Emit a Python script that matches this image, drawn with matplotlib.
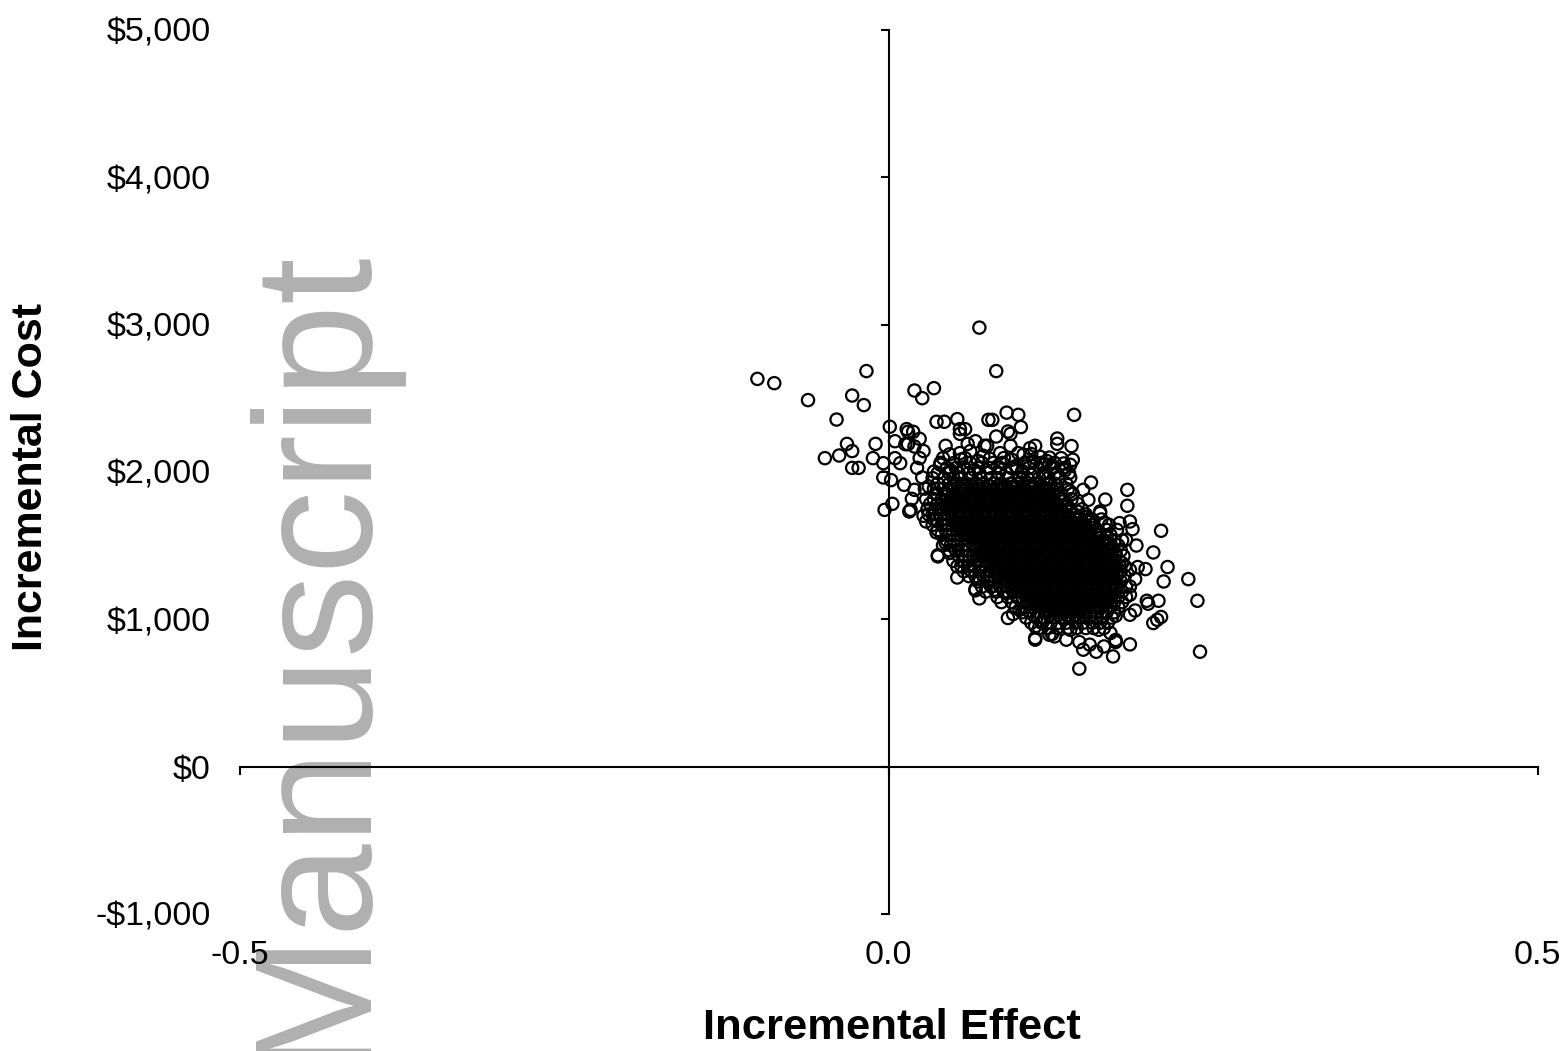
import matplotlib
matplotlib.use("Agg")
import matplotlib.pyplot as plt

plt.rcParams['font.family'] = ['Liberation Sans', 'DejaVu Sans']

# Individually read points around the edge of the cloud
edge_effect = [-.101,-.088,-.062,-.017,-.028,-.019,-.040,-.032,-.028,-.049,-.038,-.028,-.023,-.010,-.012,-.004,-.004,.002,.001,.005,.005,.009,.012,.003,-.003,
 .020,.026,.035,.070,.083,.053,.037,.043,.014,.019,.015,.024,.013,.015,.020,.027,.024,.022,.044,.055,.059,.055,.067,.061,.077,.074,.042,.040,.055,.059,.050,.035,.026,.020,.018,.031,.017,
 .080,.091,.100,.102,.092,.094,.083,.143,.130,.130,.141,.113,.109,.094,.100,.076,.124,.142,.140,.108,.119,.124,.095,.095,.110,.121,.133,.140,.132,.156,.150,.154,.167,.184,.184,.138,.140,.163,
 .210,.204,.215,.212,.231,.238,.208,.199,.200,.210,.207,.204,.240,.186,.147,.173,.160,.150,.155,.147,.166,.175,.175,.171,.162,.137,.128,.126,.140,.191,.178,.186,.188,.183,.198,.192,.186,.190,.186,.186,.190,.186,.175,.180,.163,.157,.167,
 .016,.027,.029,.037,.044,.047,.038,.038,.053,.053,.063,.067,.067,.070,.070,.082,.091,.092,.096,.101,.112,.113,.113,.113,.119,.124]
edge_cost = [2632,2603,2488,2685,2519,2454,2356,2191,2142,2094,2112,2028,2028,2191,2094,2060,1963,1945,2307,2209,2094,2060,1913,1784,1743,
 2553,2501,2569,2980,2685,2359,2341,2341,2291,2273,2273,2225,2189,2189,2173,2142,2094,2028,2178,2291,2291,2259,2209,2191,2354,2178,2094,2049,2128,2094,2060,2003,1963,1879,1818,1902,1743,
 2354,2403,2388,2305,2275,2259,2241,2388,2227,2191,2176,2178,2162,2178,2128,2178,2098,2083,2049,2064,2049,2049,2083,2026,1981,1992,2094,1963,1963,1929,1879,1811,1813,1879,1771,1879,1868,1732,
 1601,1454,1355,1257,1273,1126,1126,1126,1106,1016,997,975,780,830,665,748,780,794,828,846,816,846,860,907,929,862,884,900,929,1501,1653,1664,1612,1540,1341,1355,1336,1273,1223,1167,1060,1031,1024,1382,1721,1676,1653,
 1732,1703,1664,1590,1518,1450,1427,1435,1359,1284,1336,1206,1197,1142,1280,1201,1178,1009,1036,1065,1026,952,862,873,986,895]

upper_effect = [.047,.056,.063,.069,.073,.081,.086,.089,.098,.104,.112,.117,.126,.135,.048,.058,.066,.078,.084,.103,.110,.122,.128,.136]
upper_cost = [2120,2085,2142,2075,2110,2062,2128,2095,2040,2118,2070,2102,2035,2058,2010,2032,2015,2090,2040,2006,2122,2075,1985,2012]

# Dense core of the cloud, estimated band by band
core_cost = [2062,2027,1993,1958,1921,1887,1852,1816,1783,1747,1712,1678,1641,1607,1573,1536,1502,1468,1431,1397,1362,1326,1293,1257,1222,1188,1151,1117,1082,1048,1012,977,941]
core_effect = [
 [.040,.063,.072,.088,.105,.118,.128],
 [.045,.052,.069,.078,.086,.099,.108,.126,.135],
 [.038,.047,.054,.062,.070,.076,.085,.091,.103,.112,.119,.129,.139],
 [.034,.043,.050,.056,.064,.071,.079,.084,.092,.101,.107,.116,.123,.131],
 [.038,.047,.053,.060,.067,.073,.081,.087,.094,.100,.108,.113,.122,.128,.137],
 [.028,.035,.042,.049,.056,.062,.069,.075,.083,.089,.096,.103,.110,.116,.124,.130],
 [.037,.044,.051,.057,.064,.071,.077,.084,.091,.098,.105,.112,.119,.126,.133,.142],
 [.029,.035,.041,.048,.054,.061,.067,.074,.080,.086,.093,.100,.106,.113,.120,.127,.134,.141],
 [.032,.038,.045,.051,.058,.064,.070,.077,.083,.090,.096,.103,.110,.116,.123,.130,.137,.146],
 [.030,.036,.042,.048,.055,.061,.067,.074,.080,.087,.093,.099,.106,.113,.119,.126,.133,.140,.149],
 [.031,.034,.040,.046,.052,.058,.064,.071,.077,.083,.090,.096,.103,.109,.116,.122,.129,.136,.143,.152],
 [.035,.037,.043,.049,.055,.061,.068,.074,.080,.087,.093,.100,.106,.112,.119,.125,.132,.139,.146,.155,.164],
 [.034,.041,.046,.052,.058,.065,.071,.077,.084,.090,.096,.103,.109,.116,.122,.129,.135,.142,.149,.157,.170],
 [.038,.044,.049,.055,.062,.068,.074,.080,.087,.093,.100,.106,.113,.119,.126,.132,.139,.145,.152,.160,.168,.176],
 [.041,.047,.053,.059,.065,.071,.077,.084,.090,.097,.103,.110,.116,.122,.129,.135,.142,.149,.155,.163,.171],
 [.045,.050,.056,.062,.068,.074,.081,.087,.094,.100,.106,.113,.119,.126,.132,.139,.145,.152,.158,.166,.174,.180],
 [.042,.048,.053,.059,.065,.071,.078,.084,.090,.097,.103,.110,.116,.123,.129,.136,.142,.149,.155,.162,.169,.177],
 [.047,.052,.057,.062,.068,.075,.081,.087,.094,.100,.107,.113,.120,.126,.133,.139,.146,.152,.159,.165,.172,.179],
 [.054,.059,.065,.072,.078,.084,.091,.097,.104,.110,.117,.123,.130,.136,.143,.149,.156,.162,.169,.175,.181],
 [.050,.057,.062,.069,.075,.081,.088,.094,.101,.107,.114,.120,.127,.133,.140,.146,.153,.159,.166,.172,.178],
 [.056,.061,.066,.072,.078,.085,.091,.098,.104,.111,.117,.124,.130,.137,.143,.150,.156,.163,.169,.175,.182],
 [.058,.064,.070,.075,.082,.088,.095,.101,.108,.114,.121,.127,.134,.140,.147,.153,.160,.166,.172,.179],
 [.062,.067,.073,.079,.085,.092,.098,.105,.111,.118,.124,.131,.137,.144,.150,.157,.163,.169,.176,.182],
 [.069,.076,.082,.089,.095,.102,.108,.115,.121,.128,.134,.141,.147,.154,.160,.166,.173,.179],
 [.072,.079,.086,.092,.099,.105,.112,.118,.125,.131,.138,.144,.151,.157,.163,.170,.176,.183],
 [.075,.083,.089,.096,.102,.109,.115,.122,.128,.135,.141,.148,.154,.160,.167,.173,.180],
 [.084,.092,.099,.106,.112,.119,.125,.132,.138,.145,.151,.157,.164,.170,.177,.183],
 [.087,.095,.103,.109,.116,.122,.129,.135,.142,.148,.154,.161,.167,.174,.180],
 [.098,.105,.112,.119,.126,.132,.139,.145,.151,.158,.164,.171,.177],
 [.103,.109,.116,.123,.129,.136,.142,.148,.155,.161,.168,.174],
 [.106,.114,.120,.127,.133,.139,.146,.152,.159,.165,.172],
 [.110,.118,.125,.131,.137,.144,.150,.157,.163,.169],
 [.116,.123,.130,.138,.145,.152,.158,.166],
]

# Second pass through the core, where the rings merge into solid black
fill_cost = [1905,1870,1834,1799,1765,1730,1695,1660,1624,1590,1554,1519,1485,1449,1414,1380,1344,1309,1275,1240,1205,1169,1134,1100,1065,1030]
fill_effect = [
 [.050,.057,.064,.070,.077,.084,.090,.097,.104,.111,.118],
 [.046,.053,.059,.066,.072,.079,.086,.093,.099,.106,.113,.120,.127],
 [.044,.051,.058,.064,.071,.077,.083,.090,.097,.103,.110,.117,.124,.131],
 [.042,.048,.055,.061,.067,.074,.080,.087,.093,.100,.107,.113,.120,.127,.134],
 [.045,.052,.058,.064,.071,.077,.084,.090,.096,.103,.110,.116,.123,.130,.137],
 [.049,.055,.061,.067,.074,.080,.087,.093,.100,.106,.113,.119,.126,.133,.140,.146],
 [.049,.055,.061,.068,.074,.080,.087,.093,.100,.106,.113,.119,.126,.132,.139,.146,.152],
 [.052,.058,.064,.071,.077,.083,.090,.096,.103,.109,.116,.122,.129,.135,.142,.149,.155],
 [.055,.062,.068,.074,.081,.087,.093,.100,.106,.113,.119,.126,.132,.139,.145,.152,.159],
 [.059,.065,.071,.077,.084,.090,.097,.103,.110,.116,.122,.129,.135,.142,.148,.155,.162],
 [.059,.065,.071,.078,.084,.090,.097,.103,.110,.116,.123,.129,.136,.142,.149,.155,.162,.168],
 [.065,.071,.077,.084,.090,.097,.103,.110,.116,.123,.129,.136,.142,.149,.155,.162,.169],
 [.068,.074,.081,.087,.094,.100,.107,.113,.120,.126,.133,.139,.146,.152,.159,.165,.172],
 [.071,.078,.084,.091,.097,.104,.110,.117,.123,.130,.136,.143,.149,.156,.162,.169,.175],
 [.075,.081,.088,.094,.101,.107,.114,.120,.127,.133,.140,.146,.153,.159,.166,.172],
 [.078,.085,.091,.098,.104,.111,.117,.124,.130,.137,.143,.150,.156,.163,.169,.175],
 [.082,.088,.095,.101,.108,.114,.121,.127,.134,.140,.147,.153,.160,.166,.172],
 [.086,.092,.099,.105,.112,.118,.125,.131,.138,.144,.151,.157,.164,.170,.176],
 [.089,.096,.102,.109,.115,.122,.128,.135,.141,.148,.154,.161,.167,.173],
 [.096,.102,.109,.115,.122,.128,.135,.141,.148,.154,.161,.167,.173],
 [.101,.107,.114,.120,.127,.133,.140,.146,.153,.159,.165,.172],
 [.105,.112,.118,.125,.131,.138,.144,.151,.157,.163,.170],
 [.110,.116,.123,.129,.136,.142,.149,.155,.161,.168],
 [.115,.121,.128,.134,.141,.147,.153,.160,.166],
 [.120,.127,.133,.140,.146,.152,.158],
 [.124,.131,.138,.144,.150,.156],
]

x_ticks = [-0.5, 0.0, 0.5]
x_labels = ['-0.5', '0.0', '0.5']
y_ticks = [-1000, 0, 1000, 2000, 3000, 4000, 5000]
y_labels = ['-$1,000', '$0', '$1,000', '$2,000', '$3,000', '$4,000', '$5,000']

W, H, DPI = 1567, 1051, 100
fig = plt.figure(figsize=(W / DPI, H / DPI), dpi=DPI, facecolor='white')
ax = fig.add_axes([239.5 / W, 1 - 914 / H, 1298 / W, 884 / H])
ax.patch.set_visible(False)

core_x = [v for row in core_effect for v in row]
core_y = [c for c, row in zip(core_cost, core_effect) for _ in row]
fill_x = [v for row in fill_effect for v in row]
fill_y = [c for c, row in zip(fill_cost, fill_effect) for _ in row]
xs = edge_effect + upper_effect + core_x + fill_x
ys = edge_cost + upper_cost + core_y + fill_y
ax.scatter(xs, ys, s=78, facecolors='none', edgecolors='black', linewidths=1.6, zorder=3, clip_on=False)

ax.set_xlim(-0.5, 0.5)
ax.set_ylim(-1000, 5000)
ax.spines['top'].set_visible(False)
ax.spines['right'].set_visible(False)
ax.spines['left'].set_position(('data', 0))
ax.spines['bottom'].set_position(('data', 0))
for s in ('left', 'bottom'):
    ax.spines[s].set_linewidth(1.5)
ax.set_xticks(x_ticks, x_labels)
ax.set_yticks(y_ticks, y_labels)
ax.tick_params(axis='x', length=6, width=1.5, labelsize=24.5, pad=119, direction='out')
ax.tick_params(axis='y', length=6, width=1.5, labelsize=24.5, pad=482, direction='out')

ax.set_xlabel('Incremental Effect', fontsize=31.3, fontweight='bold')
ax.xaxis.set_label_coords(652 / 1298, (914 - 1028) / 884)
ax.xaxis.label.set_verticalalignment('center')
ax.set_ylabel('Incremental Cost', fontsize=31, fontweight='bold')
ax.yaxis.set_label_coords((31 - 239) / 1298, (914 - 477) / 884)
ax.yaxis.label.set_verticalalignment('center')

fig.text(358 / W, 1 - 1062 / H, 'Manuscript', rotation=90, rotation_mode='anchor',
         ha='left', va='baseline', fontsize=120.5, color='#b0b0b0', zorder=-1)

fig.savefig('out.png', dpi=DPI)
